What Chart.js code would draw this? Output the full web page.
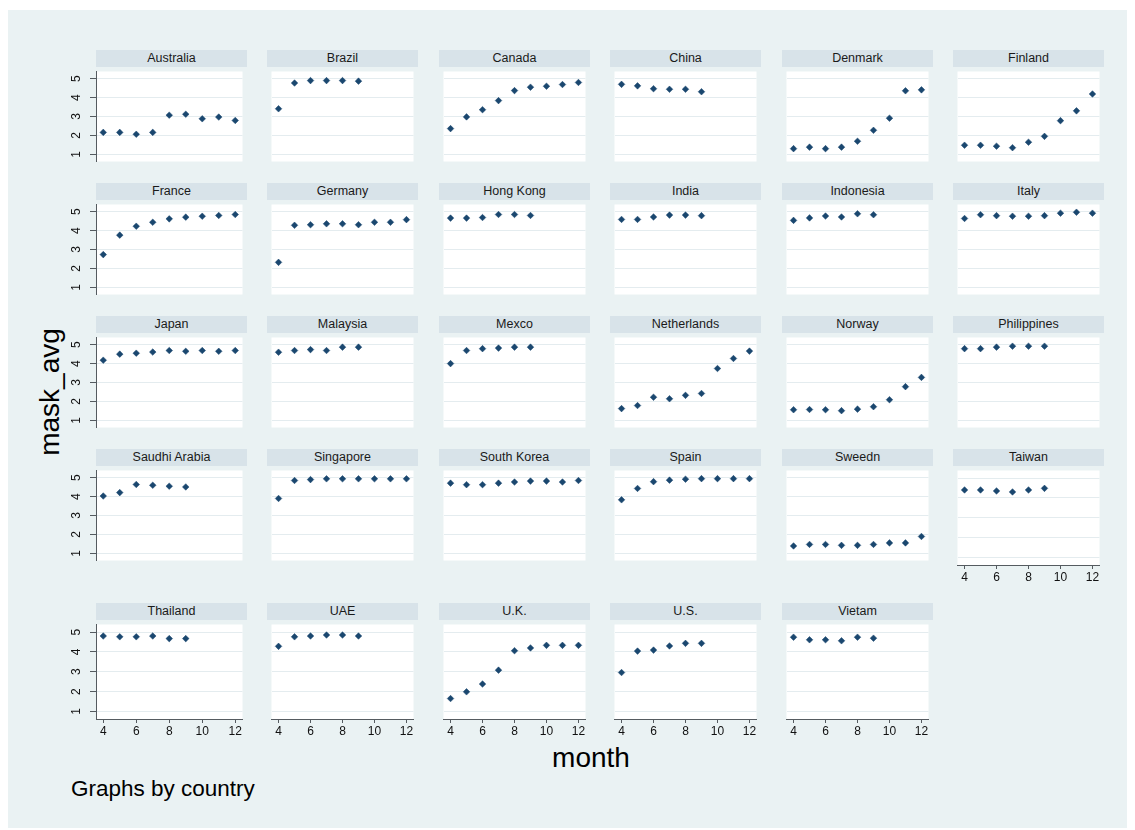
<!DOCTYPE html>
<html><head><meta charset="utf-8">
<script src="https://cdn.jsdelivr.net/npm/chart.js@4/dist/chart.umd.min.js"></script>
<style>
body{margin:0;background:#fff;width:1135px;height:830px;overflow:hidden;font-family:"Liberation Sans",Arial,sans-serif;position:relative;}
#bg{position:absolute;left:8px;top:10px;width:1119px;height:818px;background:#eaf2f3;}
.strip{position:absolute;height:17px;background:rgb(216,227,233);font-size:12.5px;line-height:17px;text-align:center;color:#1a1a1a;}
canvas{position:absolute;}
.lab{position:absolute;color:#000;white-space:nowrap;line-height:1;}
</style></head><body>
<div id="bg"></div>
<div class="lab" style="left:50px;top:392px;font-size:28px;transform:translate(-50%,-50%) rotate(-90deg);">mask_avg</div>
<div class="lab" style="left:591px;top:758px;font-size:28px;transform:translate(-50%,-50%);">month</div>
<div class="lab" style="left:71px;top:789px;font-size:22.5px;transform:translate(0,-50%);">Graphs by country</div>
<script>
// ---- data ----
const months = [4, 5, 6, 7, 8, 9, 10, 11, 12];
const yTicks = [1, 2, 3, 4, 5];
const xTicks = [4, 6, 8, 10, 12];
const countries = ["Australia","Brazil","Canada","China","Denmark","Finland",
  "France","Germany","Hong Kong","India","Indonesia","Italy",
  "Japan","Malaysia","Mexco","Netherlands","Norway","Philippines",
  "Saudhi Arabia","Singapore","South Korea","Spain","Sweedn","Taiwan",
  "Thailand","UAE","U.K.","U.S.","Vietam"];
const australia   = [2.16,2.16,2.06,2.16,3.07,3.12,2.88,2.97,2.79];
const brazil      = [3.41,4.77,4.90,4.90,4.90,4.87];
const canada      = [2.36,2.98,3.36,3.84,4.37,4.55,4.60,4.69,4.80];
const china       = [4.70,4.62,4.47,4.44,4.44,4.31];
const denmark     = [1.30,1.38,1.30,1.38,1.69,2.27,2.91,4.36,4.41];
const finland     = [1.48,1.48,1.43,1.35,1.64,1.95,2.78,3.30,4.19];
const france      = [2.73,3.76,4.23,4.44,4.62,4.71,4.76,4.80,4.85];
const germany     = [2.32,4.28,4.31,4.36,4.36,4.31,4.44,4.44,4.58];
const hongKong    = [4.66,4.66,4.69,4.85,4.85,4.80];
const india       = [4.59,4.59,4.72,4.82,4.82,4.79];
const indonesia   = [4.54,4.67,4.77,4.72,4.89,4.84];
const italy       = [4.64,4.84,4.79,4.76,4.76,4.79,4.92,4.97,4.92];
const japan       = [4.18,4.50,4.55,4.61,4.69,4.65,4.69,4.65,4.69];
const malaysia    = [4.60,4.69,4.74,4.69,4.87,4.87];
const mexco       = [4.00,4.69,4.79,4.82,4.87,4.87];
const netherlands = [1.62,1.78,2.22,2.14,2.32,2.42,3.74,4.27,4.66];
const norway      = [1.56,1.57,1.56,1.51,1.59,1.72,2.09,2.78,3.27];
const philippines = [4.79,4.79,4.87,4.92,4.92,4.92];
const saudhiArabia= [4.03,4.21,4.64,4.60,4.55,4.51];
const singapore   = [3.90,4.85,4.90,4.94,4.94,4.94,4.94,4.94,4.94];
const southKorea  = [4.71,4.63,4.63,4.71,4.77,4.82,4.82,4.77,4.85];
const spain       = [3.83,4.43,4.79,4.87,4.92,4.95,4.95,4.95,4.95];
const sweedn      = [1.39,1.47,1.47,1.42,1.42,1.47,1.55,1.55,1.89];
const taiwan      = [4.40,4.40,4.35,4.30,4.40,4.48];
const thailand    = [4.80,4.76,4.76,4.80,4.67,4.67];
const uae         = [4.28,4.76,4.80,4.85,4.85,4.80];
const uk          = [1.65,1.99,2.38,3.08,4.06,4.20,4.33,4.33,4.33];
const us          = [2.96,4.04,4.09,4.30,4.43,4.43];
const vietam      = [4.74,4.61,4.61,4.56,4.74,4.69];
const seriesList = [australia,brazil,canada,china,denmark,finland,
  france,germany,hongKong,india,indonesia,italy,
  japan,malaysia,mexco,netherlands,norway,philippines,
  saudhiArabia,singapore,southKorea,spain,sweedn,taiwan,
  thailand,uae,uk,us,vietam];

// ---- layout / style ----
const FONT = '"Liberation Sans", Arial, sans-serif';
const colLeft = [96, 267, 439, 610, 782, 953];
const rowTop = [50, 183, 316, 449, 603];
const PW = 151, PH = 99, STRIP = 17;
const axisColor = '#555b60';
const gridColor = '#e4ecef';
const markColor = '#1a476f';

const whiteArea = {
  id: 'whiteArea',
  beforeDraw(chart) {
    const a = chart.chartArea, c = chart.ctx;
    c.save(); c.fillStyle = '#ffffff';
    c.fillRect(a.left, a.top, a.right - a.left, a.bottom - a.top);
    c.restore();
  }
};
const rotYLabels = {
  id: 'rotYLabels',
  afterDraw(chart, args, opts) {
    if (!opts.on) return;
    const s = chart.scales.y, c = chart.ctx;
    c.save();
    c.font = '12px ' + FONT; c.fillStyle = '#111';
    c.textAlign = 'center'; c.textBaseline = 'middle';
    s.ticks.forEach(t => {
      const y = s.getPixelForValue(t.value);
      c.save(); c.translate(chart.chartArea.left - 19, y); c.rotate(-Math.PI / 2);
      c.fillText(String(t.value), 0, 0); c.restore();
    });
    c.restore();
  }
};

countries.forEach((name, i) => {
  const row = Math.floor(i / 6), col = i % 6;
  const left = colLeft[col], top = rowTop[row];
  const hasY = col === 0, hasX = row === 4 || name === 'Taiwan';
  const padL = hasY ? 36 : 0, padB = hasX ? 24 : 0;

  const strip = document.createElement('div');
  strip.className = 'strip';
  strip.style.left = left + 'px'; strip.style.top = top + 'px'; strip.style.width = PW + 'px';
  strip.textContent = name;
  document.body.appendChild(strip);

  const cv = document.createElement('canvas');
  cv.width = PW + padL; cv.height = PH + padB;
  cv.style.left = (left - padL) + 'px'; cv.style.top = (top + STRIP) + 'px';
  cv.style.width = (PW + padL) + 'px'; cv.style.height = (PH + padB) + 'px';
  document.body.appendChild(cv);

  const vals = seriesList[i];
  new Chart(cv, {
    type: 'scatter',
    data: { datasets: [{
      data: vals.map((v, k) => ({ x: months[k], y: v })),
      pointStyle: 'rectRot', pointRadius: 3.3, borderWidth: 0.5,
      backgroundColor: markColor, borderColor: markColor
    }]},
    options: {
      responsive: false, animation: false, events: [],
      layout: { padding: 0 },
      plugins: { legend: { display: false }, tooltip: { enabled: false }, rotYLabels: { on: hasY } },
      scales: {
        x: {
          type: 'linear', min: 3.56, max: 12.44, display: hasX,
          afterBuildTicks: s => { s.ticks = xTicks.map(v => ({ value: v })); },
          afterFit: s => { s.height = padB; },
          grid: { drawOnChartArea: false, drawTicks: true, tickLength: 4, tickColor: axisColor },
          border: { display: true, color: axisColor, width: 1 },
          ticks: { color: '#111', font: { size: 12, family: FONT }, padding: 1, maxRotation: 0, minRotation: 0, autoSkip: false }
        },
        y: {
          type: 'linear', min: 0.62, max: 5.38, display: true,
          afterBuildTicks: s => { s.ticks = yTicks.map(v => ({ value: v })); },
          afterFit: s => { s.width = padL; },
          grid: { color: gridColor, lineWidth: 1, drawTicks: hasY, tickLength: 6, tickColor: axisColor },
          border: { display: hasY, color: axisColor, width: 1 },
          ticks: { display: false }
        }
      }
    },
    plugins: [whiteArea, rotYLabels]
  });
});
</script>
</body></html>
